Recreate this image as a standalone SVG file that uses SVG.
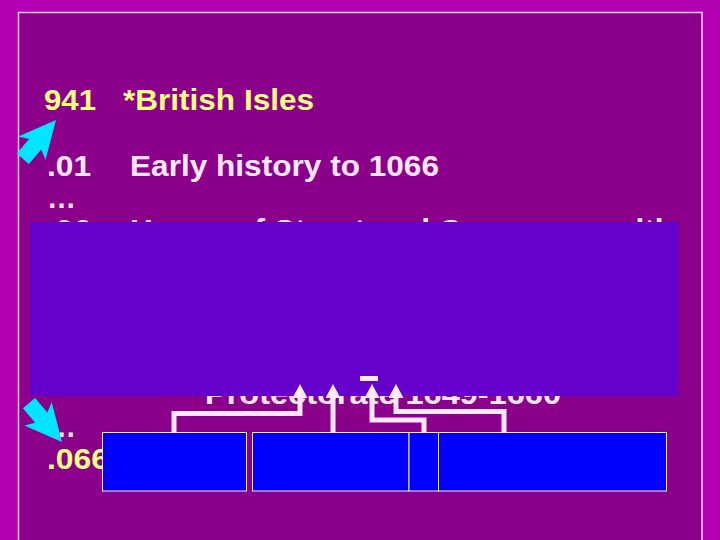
<svg xmlns="http://www.w3.org/2000/svg" width="720" height="540" viewBox="0 0 720 540">
  <style>
    .t { font-family: "Liberation Sans", Arial, sans-serif; font-weight: bold; font-size: 29px; }
    .y { fill: #ffff80; }
    .w { fill: #ffe8ff; }
    .box { fill: #0000ff; stroke: #ffe8ff; stroke-width: 1; }
    .conn { fill: none; stroke: #ffe8ff; stroke-width: 5; stroke-linejoin: miter; marker-end: url(#ah); }
    .cyan { fill: #00e5ff; }
  </style>
  <defs>
    <marker id="ah" markerUnits="userSpaceOnUse" viewBox="0 -7.5 14 15" refX="0" refY="0" markerWidth="14" markerHeight="15" orient="auto">
      <path d="M0,-7.5 L14,0 L0,7.5 z" fill="#ffe8ff"/>
    </marker>
    <polygon id="fatArrow" points="0,0 -37,-18 -32,-8 -51,-8 -51,8 -32,8 -37,18"/>
  </defs>

  <rect x="0" y="0" width="720" height="540" fill="#b200b2"/>
  <rect id="frame" x="18.5" y="12.5" width="683.5" height="540" fill="#8b008b" stroke="#ffccff" stroke-width="1.5"/>

  <g id="text-lines">
    <text class="t y" x="44" y="110" textLength="52" lengthAdjust="spacingAndGlyphs">941</text>
    <text class="t y" x="123" y="110" textLength="191" lengthAdjust="spacingAndGlyphs">*British Isles</text>
    <text class="t w" x="47" y="176" textLength="44" lengthAdjust="spacingAndGlyphs">.01</text>
    <text class="t w" x="130" y="176" textLength="309" lengthAdjust="spacingAndGlyphs">Early history to 1066</text>
    <text class="t w" x="47" y="208">…</text>
    <text class="t w" x="47" y="240" textLength="44" lengthAdjust="spacingAndGlyphs">.06</text>
    <text class="t w" x="130" y="240" textLength="544" lengthAdjust="spacingAndGlyphs">House of Stuart and Commonwealth</text>
    <text class="t w" x="205" y="404" textLength="356" lengthAdjust="spacingAndGlyphs">Protectorate 1649-1660</text>
    <text class="t w" x="47" y="437">…</text>
    <text class="t y" x="47" y="469" textLength="62" lengthAdjust="spacingAndGlyphs">.066</text>
  </g>

  <rect id="overlay" x="30" y="222" width="648.5" height="174" fill="#6600cc"/>
  <rect id="bar" x="360" y="376" width="18" height="5" fill="#ffe8ff"/>

  <g id="cyan-arrows" class="cyan">
    <use href="#fatArrow" transform="translate(56,120) rotate(-49.4)"/>
    <use href="#fatArrow" transform="translate(62,442) rotate(49.6)"/>
  </g>

  <g id="connectors">
    <path class="conn" d="M174,432 V413.5 H300 V398"/>
    <path class="conn" d="M333,432 V398"/>
    <path class="conn" d="M424,432 V420 H372 V398"/>
    <path class="conn" d="M504,432 V411.5 H396 V398"/>
  </g>

  <g id="box1"><rect class="box" x="102.5" y="432.5" width="144" height="58.5"/></g>
  <g id="box2"><rect class="box" x="252.5" y="432.5" width="156.5" height="58.5"/></g>
  <g id="box3"><rect class="box" x="409" y="432.5" width="29.5" height="58.5"/></g>
  <g id="box4"><rect class="box" x="438.5" y="432.5" width="228" height="58.5"/></g>
</svg>
